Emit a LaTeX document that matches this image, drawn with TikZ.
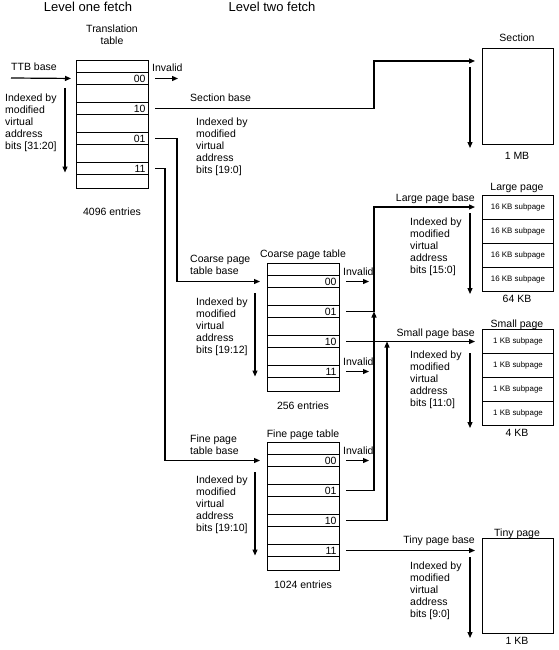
\documentclass[tikz,border=0pt]{standalone}
\usepackage{fontspec}
\setmainfont{Liberation Sans}
\usetikzlibrary{arrows.meta,positioning}
\tikzset{
    txt/.style={font=\fontsize{10.5}{11.8}\selectfont, inner sep=0pt},
    idx/.style={txt, align=left, anchor=north west},
    row/.style={draw, line width=1pt, minimum width=72pt, minimum height=12pt,
        inner xsep=3pt, inner ysep=0pt, text width=66pt, align=right,
        anchor=north west, font=\fontsize{10.5}{12}\selectfont},
    tbl/.style={draw, line width=1pt, minimum width=72pt, minimum height=128pt,
        inner sep=0pt, anchor=north west},
    pgbox/.style={draw, line width=1pt, minimum width=71pt, inner sep=0pt, anchor=north west},
    sub/.style={pgbox, minimum height=24pt, font=\fontsize{7.9}{9}\selectfont},
    ptr/.style={line width=1.2pt, -{Triangle[length=6pt,width=5pt]}},
    wire/.style={line width=1.2pt},
}
\begin{document}
\begin{tikzpicture}[x=1pt,y=-1pt]
        \useasboundingbox (0,0) rectangle (558,650);
        \node[txt, font=\fontsize{13}{15}\selectfont, anchor=base] at (88,12) {Level one fetch};
        \node[txt, font=\fontsize{13}{15}\selectfont, anchor=base] at (272,12) {Level two fetch};

        \node[tbl] (tt) at (76,60) {};
        \foreach \n/\k in {00/1,10/2,01/3,11/4}
            \node[row] (tt\n) at (76,{30*\k+42}) {\n};
        \node[txt, align=center, anchor=north] at (112,25) {Translation\\table};
        \node[txt, anchor=base] at (112,215) {4096 entries};
        \coordinate (ttb) at (11,78);
        \node[txt, anchor=base west] at (11,71) {TTB base};
        \draw[ptr, shorten >=5pt] (ttb) -- (tt00.west);
        \node[idx] at (5,94) {Indexed by\\modified\\virtual\\address\\bits [31:20]};
        \draw[ptr] ([xshift=-11pt,yshift=-28pt]tt.north west) -- ([xshift=-11pt,yshift=-4pt]tt11.west);
        \node[txt, anchor=base west] at ([xshift=3pt]tt00.north east) {Invalid};
        \draw[ptr] ([xshift=6pt]tt00.east) -- ++(23,0);

        \node[pgbox, minimum height=96pt] (sec) at (482,48) {};
        \node[txt, anchor=base] at (517,42) {Section};
        \node[txt, anchor=base] at (517,159) {1 MB};
        \coordinate (busA) at (374,0);
        \coordinate (busB) at (387,0);
        \node[txt, anchor=base west] at (190,102) {Section base};
        \draw[ptr] ([xshift=6pt]tt10.east) -- (tt10.east -| busA) |- ([xshift=-7pt,yshift=-13pt]sec.north west);
        \node[idx] at (196,118) {Indexed by\\modified\\virtual\\address\\bits [19:0]};
        \draw[ptr] ([xshift=-12pt,yshift=-19pt]sec.north west) -- ([xshift=-12pt,yshift=-3pt]sec.south west);

        \node[tbl] (cp) at (267,263) {};
        \foreach \n/\k in {00/1,01/2,10/3,11/4}
            \node[row] (cp\n) at (267,{30*\k+245}) {\n};
        \node[txt, anchor=base] at (303,257) {Coarse page table};
        \node[txt, anchor=base] at (303,409) {256 entries};
        \coordinate (dropA) at (177,0);
        \coordinate (dropB) at (165,0);
        \node[idx] at (190,255) {Coarse page\\table base};
        \draw[ptr] ([xshift=6pt]tt01.east) -- (tt01.east -| dropA) |- ([xshift=-7pt]cp00.west);
        \node[idx] at (196,298) {Indexed by\\modified\\virtual\\address\\bits [19:12]};
        \draw[ptr] ([xshift=-12pt,yshift=-30pt]cp.north west) -- ([xshift=-12pt,yshift=-5pt]cp11.west);
        \node[txt, anchor=base west] at ([xshift=3pt]cp00.north east) {Invalid};
        \draw[ptr] ([xshift=6pt]cp00.east) -- ++(23,0);
        \node[txt, anchor=base west] at ([xshift=3pt]cp11.north east) {Invalid};
        \draw[ptr] ([xshift=6pt]cp11.east) -- ++(23,0);

        \node[tbl] (fp) at (267,442) {};
        \foreach \n/\k in {00/1,01/2,10/3,11/4}
            \node[row] (fp\n) at (267,{30*\k+424}) {\n};
        \node[txt, anchor=base] at (303,437) {Fine page table};
        \node[txt, anchor=base] at (303,588) {1024 entries};
        \node[idx] at (190,435) {Fine page\\table base};
        \draw[ptr] ([xshift=6pt]tt11.east) -- (tt11.east -| dropB) |- ([xshift=-7pt]fp00.west);
        \node[idx] at (196,476) {Indexed by\\modified\\virtual\\address\\bits [19:10]};
        \draw[ptr] ([xshift=-12pt,yshift=-30pt]fp.north west) -- ([xshift=-12pt,yshift=-5pt]fp11.west);
        \node[txt, anchor=base west] at ([xshift=3pt]fp00.north east) {Invalid};
        \draw[ptr] ([xshift=6pt]fp00.east) -- ++(23,0);

        \foreach \k in {1,...,4}
            \node[sub] (lp\k) at (482,{24*\k+171}) {16 KB subpage};
        \node[txt, anchor=base] at (517,190) {Large page};
        \node[txt, anchor=base] at (517,302) {64 KB};
        \coordinate (lpin) at ([xshift=-7pt,yshift=-12pt]lp1.north west);
        \node[txt, anchor=base east] at ([yshift=6pt]lpin) {Large page base};
        \draw[wire] ([xshift=6pt]cp01.east) -- (cp01.east -| busA);
        \draw[ptr] ([xshift=6pt]fp01.east) -- (fp01.east -| busA) -- (cp01.east -| busA);
        \draw[ptr] (cp01.east -| busA) |- (lpin);
        \node[idx] at (410,218) {Indexed by\\modified\\virtual\\address\\bits [15:0]};
        \draw[ptr] ([xshift=-12pt,yshift=-18pt]lp1.north west) -- ([xshift=-12pt,yshift=-2pt]lp4.south west);

        \foreach \k in {1,...,4}
            \node[sub] (sp\k) at (482,{24*\k+305}) {1 KB subpage};
        \node[txt, anchor=base] at (517,327) {Small page};
        \node[txt, anchor=base] at (517,436) {4 KB};
        \coordinate (spin) at ([xshift=-7pt,yshift=-12pt]sp1.north west);
        \node[txt, anchor=base east] at ([yshift=5pt]spin) {Small page base};
        \draw[ptr] ([xshift=6pt]cp10.east) -- (cp10.east -| spin);
        \draw[ptr] ([xshift=6pt]fp10.east) -- (fp10.east -| busB) -- (cp10.east -| busB);
        \node[idx] at (410,351) {Indexed by\\modified\\virtual\\address\\bits [11:0]};
        \draw[ptr] ([xshift=-12pt,yshift=-24pt]sp1.north west) -- ([xshift=-12pt,yshift=-2pt]sp4.south west);

        \node[pgbox, minimum height=95pt] (tp) at (482,538) {};
        \node[txt, anchor=base] at (517,536) {Tiny page};
        \node[txt, anchor=base] at (517,644) {1 KB};
        \coordinate (tpin) at ([xshift=-7pt,yshift=-11pt]tp.north west);
        \node[txt, anchor=base east] at ([yshift=6pt]tpin) {Tiny page base};
        \draw[ptr] ([xshift=6pt]fp11.east) -- (fp11.east -| tpin);
        \node[idx] at (410,562) {Indexed by\\modified\\virtual\\address\\bits [9:0]};
        \draw[ptr] ([xshift=-12pt,yshift=-19pt]tp.north west) -- ([xshift=-12pt,yshift=-4pt]tp.south west);
\end{tikzpicture}
\end{document}
